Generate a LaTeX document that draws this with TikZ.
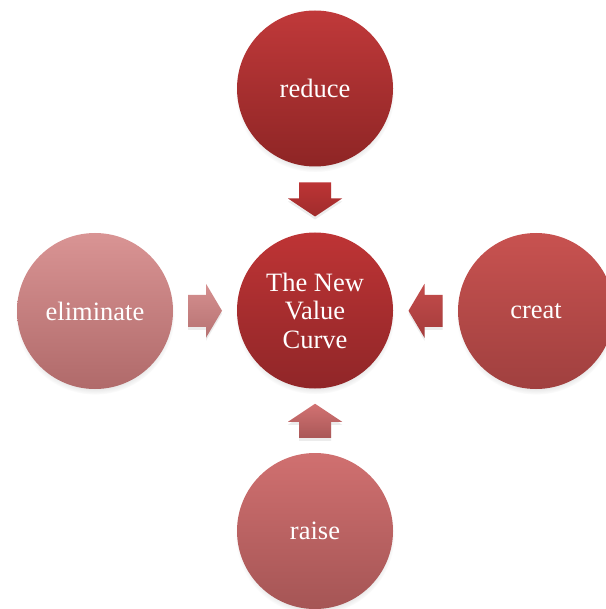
\documentclass[tikz,border=0pt]{standalone}
\usepackage{fontspec}
\setmainfont{Liberation Serif}
\usetikzlibrary{shadows,calc}

\tikzset{
  ball/.style={circle, minimum size=156pt, inner sep=0pt, text=white,
    align=center, font=\fontsize{26.5}{28.5}\selectfont,
    circular drop shadow={shadow xshift=0pt, shadow yshift=-4pt, shadow scale=1.02, opacity=0.35}},
  blockarrow/.style={drop shadow={shadow xshift=0pt, shadow yshift=-3pt, opacity=0.15}},
}

\begin{document}
\begin{tikzpicture}[x=1pt, y=1pt]

  \fill[white] (0,0) rectangle (605,-609);
  \useasboundingbox (0,0) rectangle (605,-609);

  %% the five balls
  \node[ball, top color={rgb,255:red,192;green,57;blue,58}, bottom color={rgb,255:red,142;green,37;blue,37}]
    (reduce) at (315,-88.5) {reduce};
  \node[ball, top color={rgb,255:red,190;green,52;blue,53}, bottom color={rgb,255:red,144;green,38;blue,40}]
    (curve) at (315,-310.5) {The New\\Value\\Curve};
  \node[ball, top color={rgb,255:red,217;green,148;blue,148}, bottom color={rgb,255:red,176;green,106;blue,106}]
    (eliminate) at (95,-311) {eliminate};
  \node[ball, top color={rgb,255:red,200;green,82;blue,80}, bottom color={rgb,255:red,160;green,64;blue,63}]
    (creat) at (536,-311) {creat};
  \node[ball, top color={rgb,255:red,208;green,112;blue,112}, bottom color={rgb,255:red,165;green,85;blue,85}]
    (raise) at (315,-531) {raise};

  %% block arrows into the middle
  \coordinate (m-reduce) at ($(reduce)!0.5!(curve)$);
  \coordinate (m-elim)   at ($(eliminate)!0.5!(curve)$);
  \coordinate (m-creat)  at ($(creat)!0.5!(curve)$);
  \coordinate (m-raise)  at ($(raise)!0.5!(curve)$);

  \path[blockarrow, top color={rgb,255:red,188;green,52;blue,53}, bottom color={rgb,255:red,160;green,44;blue,44}, shift={(m-reduce)}]
    (-16,17) -- (16,17) -- (16,1) -- (27,1) -- (0,-17) -- (-27,1) -- (-16,1) -- cycle; %% reduce->curve
  \path[blockarrow, top color={rgb,255:red,214;green,144;blue,144}, bottom color={rgb,255:red,182;green,114;blue,114}, shift={(m-elim)}]
    (-17,16) -- (1,16) -- (1,27) -- (17,0) -- (1,-27) -- (1,-16) -- (-17,-16) -- cycle; %% eliminate->curve
  \path[blockarrow, top color={rgb,255:red,196;green,76;blue,75}, bottom color={rgb,255:red,164;green,60;blue,60}, shift={(m-creat)}]
    (17,16) -- (-1,16) -- (-1,27) -- (-17,0) -- (-1,-27) -- (-1,-16) -- (17,-16) -- cycle; %% creat->curve
  \path[blockarrow, top color={rgb,255:red,210;green,114;blue,114}, bottom color={rgb,255:red,170;green,88;blue,88}, shift={(m-raise)}]
    (-16,-17) -- (16,-17) -- (16,-1) -- (27,-1) -- (0,17) -- (-27,-1) -- (-16,-1) -- cycle; %% raise->curve

\end{tikzpicture}
\end{document}
